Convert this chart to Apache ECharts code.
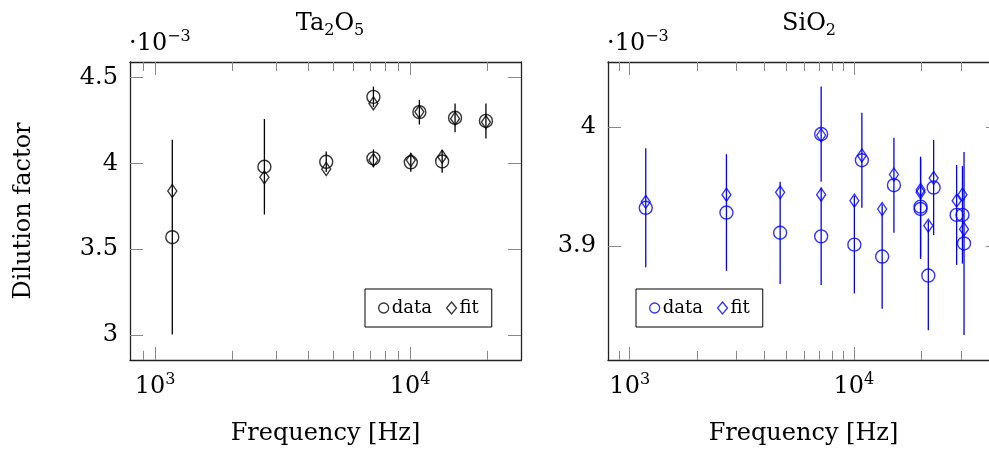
<!DOCTYPE html>
<html>
<head>
<meta charset="utf-8">
<script src="https://cdn.jsdelivr.net/npm/echarts@6/dist/echarts.min.js"></script>
<style>
  html, body { margin: 0; padding: 0; overflow: hidden; background: #fff; }
  #chart { width: 1000px; height: 452px; }
</style>
</head>
<body>
<div id="chart"></div>
<script>
// values are in units of 1e-3 (the axis shows "·10^-3")
// Ta2O5 panel
const freqTa = [1169, 2684, 4690, 7180, 7180, 10060, 10870, 13350, 15000, 19820];
const dataTa = [3.570, 3.980, 4.009, 4.387, 4.029, 4.006, 4.298, 4.011, 4.265, 4.247];
const fitTa  = [3.839, 3.919, 3.967, 4.349, 4.019, 4.019, 4.300, 4.039, 4.260, 4.240];
const errTa  = [0.567, 0.278, 0.060, 0.060, 0.052, 0.055, 0.072, 0.066, 0.084, 0.102];

// SiO2 panel
const freqSi = [1179, 2701, 4688, 7145, 7145, 10050, 10856, 13370, 15088, 19840, 19840, 21480, 22690, 28730, 30500, 31000];
const dataSi = [3.932, 3.928, 3.911, 3.994, 3.908, 3.901, 3.972, 3.891, 3.951, 3.933, 3.931, 3.875, 3.949, 3.926, 3.926, 3.902];
const fitSi  = [3.937, 3.943, 3.945, 3.993, 3.943, 3.938, 3.976, 3.931, 3.960, 3.947, 3.945, 3.917, 3.957, 3.938, 3.943, 3.914];
const errSi  = [0.050, 0.049, 0.043, 0.040, 0.041, 0.041, 0.040, 0.044, 0.040, 0.042, 0.042, 0.046, 0.040, 0.042, 0.041, 0.077];

// tick values
const xMajorTicks = [1000, 10000];
const xMinorTicks = [900, 2000, 3000, 4000, 5000, 6000, 7000, 8000, 9000, 20000, 30000, 40000];
const yTicksTa = [3, 3.5, 4, 4.5];
const yTicksSi = [3.9, 4];

const FONT = "DejaVu Serif";
const BLUE = "#0000ff";

const rich = {
    m: { fontFamily: FONT, fontSize: 24, fontWeight: "normal", lineHeight: 30, color: "#000" },
    sup: { fontFamily: FONT, fontSize: 16, fontWeight: "normal", lineHeight: 16, verticalAlign: "top", color: "#000" },
    sub: { fontFamily: FONT, fontSize: 16, fontWeight: "normal", lineHeight: 16, verticalAlign: "bottom", color: "#000" },
};

const chart = echarts.init(document.getElementById("chart"), null, { renderer: "canvas" });

function xAxis(grid, min, max, position, ticks, len, main) {
    return {
        type: "log",
        gridIndex: grid,
        position: position,
        min: min,
        max: max,
        logBase: 10,
        axisLine: { show: main, onZero: false, lineStyle: { color: "#222", width: 1.3 } },
        axisTick: { show: true, inside: true, length: len, customValues: ticks, lineStyle: { color: "#888", width: 1 } },
        axisLabel: {
            show: main && position === "bottom",
            customValues: ticks,
            margin: 12,
            formatter: (v) => "{m|10}{sup|" + Math.round(Math.log10(v)) + "}",
            rich: rich,
        },
        splitLine: { show: false },
        minorTick: { show: false },
        name: main && position === "bottom" ? "Frequency [Hz]" : "",
        nameLocation: "middle",
        nameGap: 62,
        nameTextStyle: { fontFamily: FONT, fontSize: 24, color: "#000" },
        silent: true,
    };
}

function yAxis(grid, min, max, position, ticks, name) {
    return {
        type: "value",
        gridIndex: grid,
        position: position,
        min: min,
        max: max,
        axisLine: { show: true, onZero: false, lineStyle: { color: "#222", width: 1.3 } },
        axisTick: { show: true, inside: true, length: 13, customValues: ticks, lineStyle: { color: "#888", width: 1 } },
        axisLabel: {
            show: position === "left",
            customValues: ticks,
            margin: 12,
            fontFamily: FONT,
            fontSize: 24,
            color: "#000",
        },
        splitLine: { show: false },
        name: name,
        nameLocation: "middle",
        nameRotate: 90,
        nameGap: 94,
        nameTextStyle: { fontFamily: FONT, fontSize: 24, color: "#000" },
        silent: true,
    };
}

function errorBars(color) {
    return function (params, api) {
        const x = api.value(0);
        const lo = api.coord([x, api.value(1)]);
        const hi = api.coord([x, api.value(2)]);
        return {
            type: "line",
            shape: { x1: lo[0], y1: lo[1], x2: hi[0], y2: hi[1] },
            style: { stroke: color, lineWidth: 1.3 },
        };
    };
}

function panelSeries(idx, freq, data, fit, err, color) {
    return [
        {
            name: "err" + idx,
            type: "custom",
            xAxisIndex: idx * 4,
            yAxisIndex: idx * 2,
            renderItem: errorBars(color),
            encode: { x: 0, y: [1, 2] },
            data: freq.map((f, i) => [f, data[i] - err[i], data[i] + err[i]]),
            silent: true,
            z: 2,
        },
        {
            name: "data",
            type: "scatter",
            xAxisIndex: idx * 4,
            yAxisIndex: idx * 2,
            symbol: "circle",
            symbolSize: 13,
            itemStyle: { color: "rgba(0,0,0,0)", borderColor: color, borderWidth: 1.4 },
            data: freq.map((f, i) => [f, data[i]]),
            silent: true,
            z: 3,
        },
        {
            name: "fit",
            type: "scatter",
            xAxisIndex: idx * 4,
            yAxisIndex: idx * 2,
            symbol: "diamond",
            symbolSize: [9, 13],
            itemStyle: { color: "rgba(0,0,0,0)", borderColor: color, borderWidth: 1.4 },
            data: freq.map((f, i) => [f, fit[i]]),
            silent: true,
            z: 3,
        },
    ];
}

function legend(left, color) {
    return {
        left: left,
        top: 289,
        orient: "horizontal",
        selectedMode: false,
        padding: [10, 13],
        itemGap: 14,
        itemWidth: 10,
        itemHeight: 12,
        borderColor: "#000",
        borderWidth: 1,
        backgroundColor: "#fff",
        textStyle: { fontFamily: FONT, fontSize: 18, color: "#000", padding: [0, 0, 0, -2] },
        data: [
            { name: "data", icon: "circle", itemStyle: { color: "rgba(0,0,0,0)", borderColor: color, borderWidth: 1.3 } },
            { name: "fit", icon: "diamond", itemStyle: { color: "rgba(0,0,0,0)", borderColor: color, borderWidth: 1.3 } },
        ],
    };
}

const option = {
    animation: false,
    backgroundColor: "#fff",
    title: [
        { text: "{m|Ta}{sub|2}{m|O}{sub|5}", left: 325, top: 4, textAlign: "center", textStyle: { fontWeight: "normal", rich: rich } },
        { text: "{m|SiO}{sub|2}", left: 804, top: 4, textAlign: "center", textStyle: { fontWeight: "normal", rich: rich } },
        { text: "{m|·10}{sup|−3}", left: 124, top: 24, textStyle: { fontWeight: "normal", rich: rich } },
        { text: "{m|·10}{sup|−3}", left: 602, top: 24, textStyle: { fontWeight: "normal", rich: rich } },
    ],
    grid: [
        { left: 130, top: 62, width: 391, height: 298 },
        { left: 608, top: 62, width: 391, height: 298 },
    ],
    xAxis: [
        xAxis(0, 798, 27200, "bottom", xMajorTicks, 13, true),
        xAxis(0, 798, 27200, "bottom", xMinorTicks, 9, false),
        xAxis(0, 798, 27200, "top", xMajorTicks, 13, true),
        xAxis(0, 798, 27200, "top", xMinorTicks, 9, false),
        xAxis(1, 800, 44400, "bottom", xMajorTicks, 13, true),
        xAxis(1, 800, 44400, "bottom", xMinorTicks, 9, false),
        xAxis(1, 800, 44400, "top", xMajorTicks, 13, true),
        xAxis(1, 800, 44400, "top", xMinorTicks, 9, false),
    ],
    yAxis: [
        yAxis(0, 2.855, 4.59, "left", yTicksTa, "Dilution factor"),
        yAxis(0, 2.855, 4.59, "right", yTicksTa, ""),
        yAxis(1, 3.804, 4.0546, "left", yTicksSi, ""),
        yAxis(1, 3.804, 4.0546, "right", yTicksSi, ""),
    ],
    legend: [legend(365, "#000"), legend(636, BLUE)],
    series: [
        ...panelSeries(0, freqTa, dataTa, fitTa, errTa, "#000"),
        ...panelSeries(1, freqSi, dataSi, fitSi, errSi, BLUE),
    ],
};

chart.setOption(option);
</script>
</body>
</html>
